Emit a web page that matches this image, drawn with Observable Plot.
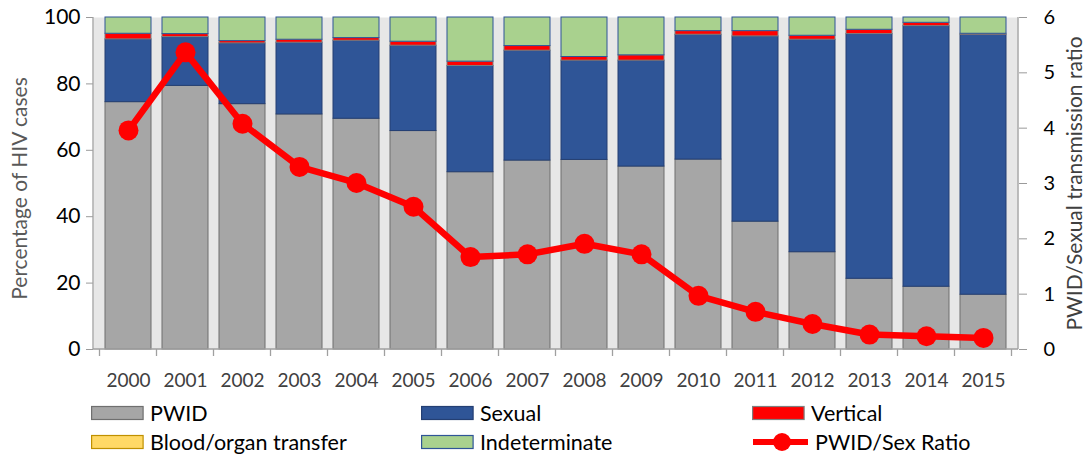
<!DOCTYPE html>
<html>
<head>
<meta charset="utf-8">
<script src="https://cdn.jsdelivr.net/npm/d3@7"></script>
<script src="https://cdn.jsdelivr.net/npm/@observablehq/plot@0.6"></script>
<style>
  html, body { margin: 0; padding: 0; background: #fff; }
  #wrap { width: 1086px; font-family: Lato, "Open Sans", sans-serif; }
  svg [aria-label="y-axis tick"] { stroke: #9a9a9a; }
  #legend { position: relative; width: 1086px; height: 60px; font-size: 21.5px; color: #000; }
  .item { position: absolute; display: flex; align-items: center; height: 22px; line-height: 22px; }
  .item svg { margin-right: 6px; }
</style>
</head>
<body>
<div id="wrap"></div>
<script>
// ---- data ----
const years = ["2000","2001","2002","2003","2004","2005","2006","2007","2008","2009","2010","2011","2012","2013","2014","2015"];
const pwid          = [74.5, 79.4, 73.9, 70.8, 69.5, 65.8, 53.4, 56.9, 57.1, 55.1, 57.2, 38.5, 29.3, 21.3, 18.9, 16.5];
const sexual        = [18.9, 14.7, 18.3, 21.6, 23.5, 25.7, 32.0, 33.1, 29.9, 31.9, 37.6, 55.8, 64.0, 73.7, 78.5, 78.3];
const vertical      = [1.7, 0.9, 0.7, 0.9, 0.8, 1.2, 1.3, 1.4, 1.1, 1.6, 1.1, 1.6, 1.2, 1.3, 1.0, 0.3];
const blood         = [0, 0, 0, 0, 0, 0, 0, 0, 0, 0, 0, 0, 0, 0, 0, 0];
const indeterminate = [4.9, 5.0, 7.1, 6.7, 6.2, 7.3, 13.3, 8.6, 11.9, 11.4, 4.1, 4.1, 5.5, 3.7, 1.6, 4.9];
const ratio         = [3.96, 5.37, 4.08, 3.30, 3.01, 2.58, 1.67, 1.72, 1.91, 1.72, 0.97, 0.68, 0.46, 0.27, 0.24, 0.21];
const seriesNames   = ["PWID", "Sexual", "Vertical", "Blood/organ transfer", "Indeterminate"];
const seriesColors  = ["#a6a6a6", "#2f5597", "#ff0000", "#ffd966", "#a9d18e"];
const seriesBorders = ["#6f6f6f", "#243f73", "#7f7f7f", "#bf9000", "#2f5597"];
const leftTicks  = [0, 20, 40, 60, 80, 100];
const rightTicks = [0, 1, 2, 3, 4, 5, 6];
const ratioMax = 6;
const lineLabel = "PWID/Sex Ratio";

// ---- tables ----
const seriesValues = [pwid, sexual, vertical, blood, indeterminate];
const rows = [];
seriesNames.forEach((s, si) => years.forEach((y, i) => rows.push({year: y, series: s, value: seriesValues[si][i]})));
const ratioRows = years.map((y, i) => ({year: y, ratio: ratio[i]}));
const toLeft = r => r * 100 / ratioMax;
const borderOf = Object.fromEntries(seriesNames.map((s, i) => [s, seriesBorders[i]]));

const chart = Plot.plot({
  width: 1086,
  height: 396,
  marginTop: 17,
  marginBottom: 47,
  marginLeft: 93,
  marginRight: 68,
  style: {fontFamily: "Lato, 'Open Sans', sans-serif", fontSize: "19px", background: "#fff", color: "#000", overflow: "visible"},
  x: {domain: years, paddingInner: 0.187, paddingOuter: 0.104, label: null},
  y: {domain: [0, 100], label: null},
  color: {domain: seriesNames, range: seriesColors},
  marks: [
    Plot.frame({fill: "#e7e7e7", stroke: null}),
    Plot.barY(rows, {x: "year", y: "value", fill: "series", order: seriesNames,
      stroke: d => borderOf[d.series], strokeWidth: 1}),
    Plot.axisX({tickSize: 0, tickPadding: 24, fontSize: 19, color: "#404040", label: null}),
    Plot.axisY({ticks: leftTicks, tickSize: 7, tickPadding: 6, fontSize: 21, color: "#000", label: null}),
    Plot.axisY({anchor: "right", ticks: rightTicks.map(toLeft), tickFormat: v => String(Math.round(v * ratioMax / 100)),
      tickSize: 8, tickPadding: 17, fontSize: 20, color: "#000", label: null}),
    Plot.text(["Percentage of HIV cases"], {frameAnchor: "left", textAnchor: "middle", rotate: -90, dx: -73, dy: 5, fontSize: 21, fill: "#595959"}),
    Plot.text(["PWID/Sexual transmission ratio"], {frameAnchor: "right", textAnchor: "middle", rotate: -90, dx: 57, fontSize: 21, fill: "#404040"}),
    Plot.line(ratioRows, {x: "year", y: d => toLeft(d.ratio), stroke: "#ff0000", strokeWidth: 6.5}),
    Plot.dot(ratioRows, {x: "year", y: d => toLeft(d.ratio), r: 10, fill: "#ff0000", stroke: null})
  ]
});

// axis lines and band-boundary ticks drawn from the chart's own scales
const xs = chart.scale("x"), ys = chart.scale("y");
const svg = d3.select(chart.tagName === "svg" ? chart : chart.querySelector("svg"));
const x0 = xs.range[0], x1 = xs.range[1];
const yb = ys.apply(0), yt = ys.apply(100);
const g = svg.append("g").attr("stroke", "#a0a0a0").attr("stroke-width", 1.3);
g.append("line").attr("x1", x0).attr("x2", x1).attr("y1", yb).attr("y2", yb);
g.append("line").attr("x1", x0).attr("x2", x0).attr("y1", yt).attr("y2", yb);
g.append("line").attr("x1", x1).attr("x2", x1).attr("y1", yt).attr("y2", yb);
const gap = (xs.step - xs.bandwidth) / 2;
const bounds = years.map(y => xs.apply(y) - gap).concat([xs.apply(years[years.length - 1]) + xs.bandwidth + gap]);
bounds.forEach(b => g.append("line").attr("x1", b).attr("x2", b).attr("y1", yb).attr("y2", yb + 7));
// keep line + dots above the axis lines
svg.selectAll('[aria-label="line"], [aria-label="dot"]').raise();

document.getElementById("wrap").appendChild(chart);

// ---- legend ----
const legend = document.createElement("div");
legend.id = "legend";
const cols = [91, 421, 752];
const rowsY = [6, 35];
const items = [
  {name: seriesNames[0], i: 0}, {name: seriesNames[1], i: 1}, {name: seriesNames[2], i: 2},
  {name: seriesNames[3], i: 3}, {name: seriesNames[4], i: 4}, {name: lineLabel, line: true}
];
items.forEach((it, k) => {
  const div = document.createElement("div");
  div.className = "item";
  div.style.left = cols[k % 3] + "px";
  div.style.top = rowsY[Math.floor(k / 3)] + "px";
  let sw;
  if (it.line) {
    sw = `<svg width="57" height="22"><line x1="1" x2="56" y1="11" y2="11" stroke="#ff0000" stroke-width="6"/><circle cx="30" cy="11" r="9" fill="#ff0000"/></svg>`;
  } else {
    sw = `<svg width="53" height="22"><rect x="0.6" y="4.5" width="51.5" height="13" fill="${seriesColors[it.i]}" stroke="${seriesBorders[it.i]}" stroke-width="1.2"/></svg>`;
  }
  div.innerHTML = sw + `<span>${it.name}</span>`;
  legend.appendChild(div);
});
document.getElementById("wrap").appendChild(legend);
</script>
</body>
</html>
